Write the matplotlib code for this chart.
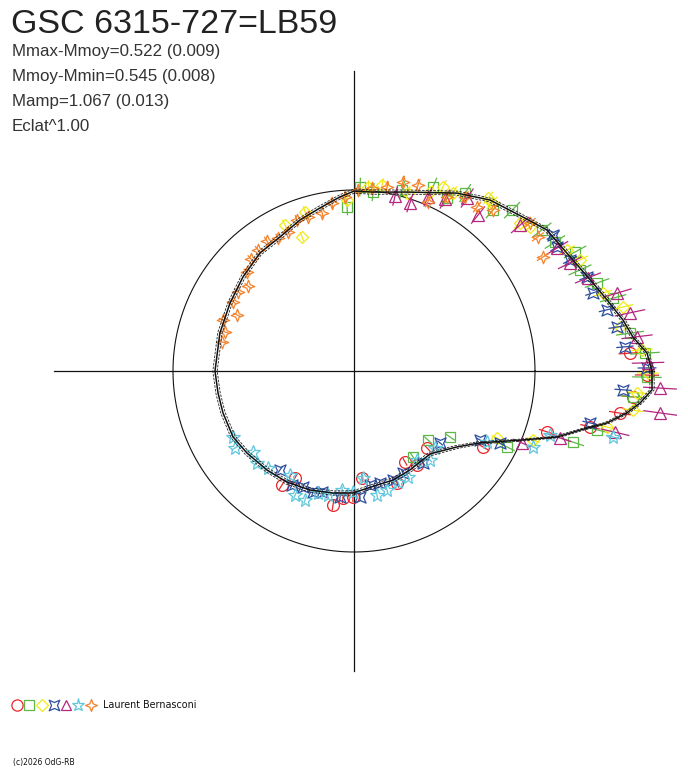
import numpy as np
import matplotlib
matplotlib.use("Agg")
import matplotlib.pyplot as plt
from matplotlib.path import Path
from matplotlib.collections import LineCollection

# ---------------- data ----------------
title = "GSC 6315-727=LB59"
info_lines = ["Mmax-Mmoy=0.522 (0.009)", "Mmoy-Mmin=0.545 (0.008)",
              "Mamp=1.067 (0.013)", "Eclat^1.00"]
observer = "Laurent Bernasconi"
copyright_txt = "(c)2026 OdG-RB"

# fitted curve: polar angle (deg) and relative flux (circle = mean = 1)
curve_ang = [0, 3.5, 6.9, 10.7, 15.7, 20.2, 26.9, 36.2, 42.3, 51.5, 59.9, 73.5,
             83.9, 90, 94.6, 101.8, 109.7, 118.9, 128.5, 139.7, 151.3, 164.2, 180,
             189.2, 197.8, 208.6, 217.5, 228.7, 238.9, 249.7, 260.2, 269.5, 281.4,
             289.7, 299.5, 312.5, 315.7, 323.6, 330.3, 337.8, 342.0, 345.6, 348.4,
             351.3, 353.6, 356.4, 360]
curve_flux = [1.646, 1.622, 1.553, 1.513, 1.452, 1.407, 1.356, 1.320, 1.263, 1.207,
              1.136, 1.031, 0.994, 0.994, 0.965, 0.920, 0.886, 0.846, 0.834, 0.804,
              0.781, 0.770, 0.768, 0.761, 0.760, 0.761, 0.745, 0.728, 0.717, 0.701,
              0.684, 0.674, 0.643, 0.640, 0.628, 0.622, 0.641, 0.707, 0.801, 1.008,
              1.180, 1.300, 1.427, 1.526, 1.590, 1.650, 1.646]
curve_sigma = 0.012

# observations (angle deg, relative flux), per series
red_ang = [237.7, 241.1, 261.1, 265.0, 269.5, 274.3, 291.0, 299.3, 303.8, 313.5,
           329.5, 342.5, 346.7, 351.0, 354.7, 359.2, 3.7]
red_flux = [0.745, 0.675, 0.749, 0.704, 0.696, 0.593, 0.663, 0.576, 0.625, 0.586,
            0.827, 1.118, 1.340, 1.488, 1.548, 1.619, 1.528]
green_ang = [92.4, 88.1, 83.9, 75.1, 66.8, 61.7, 58.0, 49.2, 45.5, 36.9, 32.7, 28.3,
             24.1, 19.9, 15.7, 7.8, 3.5, -1.2, -5.3, -13.6, -18.0, -26.4, -34.5,
             -43.0, -55.5]
green_flux = [0.907, 1.017, 0.994, 1.035, 1.106, 1.085, 1.159, 1.175, 1.246, 1.298,
              1.319, 1.387, 1.368, 1.428, 1.487, 1.539, 1.611, 1.619, 1.548, 1.381,
              1.272, 0.944, 0.644, 0.559, 0.576]
yellow_ang = [92.3, 85.6, 81.4, 73.1, 67.0, 64.2, 60.9, 52.2, 50.6, 41.7, 39.3, 29.6,
              26.2, 17.4, 13.4, 9.4, 4.2, -0.4, -4.4, -8.0, -12.5, -21.1, -25.1,
              107.1, 115.3, 111.2]
yellow_flux = [0.945, 1.019, 1.039, 1.028, 1.074, 1.129, 1.125, 1.209, 1.201, 1.229,
               1.256, 1.353, 1.391, 1.441, 1.528, 1.490, 1.595, 1.624, 1.568, 1.556,
               1.432, 1.060, 0.872, 0.919, 0.892, 0.794]
blue_ang = [34.3, 31.4, 27.2, 22.0, 18.1, 13.6, 9.5, 5.1, 0.6, -4.0, -12.4, -26.3,
            -28.7, -39.9, -53.1, -64.3, -70.3, -76.9, -82.0, -87.3, -96.3, -104.8,
            -108.7, -113.7, -118.5, -126.8]
blue_flux = [1.332, 1.314, 1.342, 1.388, 1.389, 1.438, 1.473, 1.503, 1.619, 1.490,
             1.335, 0.899, 0.794, 0.620, 0.635, 0.625, 0.640, 0.635, 0.636, 0.697,
             0.701, 0.692, 0.706, 0.700, 0.717, 0.683]
magenta_ang = [76.8, 71.6, 67.0, 62.1, 56.8, 51.5, 41.3, 31.2, 26.6, 21.7, 16.5,
               11.9, 6.9, 1.6, -3.2, -7.8, -13.2, -18.0, -23.2]
magenta_flux = [0.993, 0.978, 1.045, 1.075, 1.142, 1.101, 1.222, 1.311, 1.334, 1.391,
                1.516, 1.558, 1.575, 1.625, 1.693, 1.707, 1.481, 1.197, 1.010]
cyan_ang = [208.6, 212.9, 218.7, 223.5, 228.4, 238.4, 244.6, 249.2, 253.6, 258.2,
            264.2, 269.5, 274.8, 280.5, 285.5, 291.6, 297.0, 305.3, 310.5, 316.4,
            331.9, 337.0, 341.9, 345.7]
cyan_flux = [0.761, 0.783, 0.715, 0.739, 0.716, 0.675, 0.759, 0.762, 0.703, 0.700,
             0.661, 0.669, 0.593, 0.697, 0.682, 0.660, 0.657, 0.602, 0.647, 0.618,
             0.833, 1.074, 1.139, 1.477]
orange_ang = [167.6, 163.2, 158.7, 154.4, 150.3, 145.7, 141.3, 137.2, 132.6, 128.4,
              123.8, 119.7, 115.4, 110.7, 106.6, 101.4, 97.5, 93.0, 88.7, 84.4, 79.8,
              75.5, 71.0, 66.4, 61.9, 57.5, 53.1, 49.2, 40.1, 36.1, 31.1]
orange_flux = [0.747, 0.745, 0.777, 0.717, 0.770, 0.775, 0.751, 0.805, 0.841, 0.853,
               0.864, 0.846, 0.850, 0.892, 0.888, 0.891, 0.936, 0.963, 1.000, 1.016,
               1.033, 1.079, 1.087, 1.019, 1.090, 1.140, 1.133, 1.175, 1.271, 1.258,
               1.219]
# typical magnitude errors per series
mag_err = {"red": 0.045, "green": 0.055, "yellow": 0.04, "blue": 0.035,
           "magenta": 0.06, "cyan": 0.03, "orange": 0.035}

# ---------------- markers ----------------
star4_plus = Path([(0, 1), (0.28, 0.28), (1, 0), (0.28, -0.28), (0, -1),
                   (-0.28, -0.28), (-1, 0), (-0.28, 0.28), (0, 1)],
                  [Path.MOVETO] + [Path.LINETO] * 7 + [Path.CLOSEPOLY])
star4_x = Path([(0.8, 0.8), (0, 0.45), (-0.8, 0.8), (-0.45, 0), (-0.8, -0.8),
                (0, -0.45), (0.8, -0.8), (0.45, 0), (0.8, 0.8)],
               [Path.MOVETO] + [Path.LINETO] * 7 + [Path.CLOSEPOLY])

series = [
    ("red", red_ang, red_flux, "#e8262b", "o", 8.5),
    ("green", green_ang, green_flux, "#5cb845", "s", 7.0),
    ("yellow", yellow_ang, yellow_flux, "#f0ea14", "D", 6.5),
    ("blue", blue_ang, blue_flux, "#2d4d9f", star4_x, 8.0),
    ("magenta", magenta_ang, magenta_flux, "#b5267f", "^", 8.0),
    ("cyan", cyan_ang, cyan_flux, "#5fc7dc", "*", 10.0),
    ("orange", orange_ang, orange_flux, "#f5822a", star4_plus, 9.0),
]

# ---------------- figure ----------------
W, H = 688, 768
cx, cy, R = 354, 371, 181.0
fig = plt.figure(figsize=(W / 100, H / 100), dpi=100)
ax = fig.add_axes([0, 0, 1, 1])
ax.set_xlim(-cx / R, (W - cx) / R)
ax.set_ylim(-(H - cy) / R, cy / R)
ax.axis("off")

# axes cross and mean circle
L = 1.655
ax.plot([-L, L], [0, 0], color="#111111", lw=0.9, zorder=1)
ax.plot([0, 0], [-L, L], color="#111111", lw=0.9, zorder=1)
t = np.linspace(0, 2 * np.pi, 400)
ax.plot(np.cos(t), np.sin(t), color="#111111", lw=0.8, zorder=1)

# observations with radial error bars
for name, ang, flx, col, mk, ms in series:
    a = np.radians(np.array(ang))
    f = np.array(flx)
    e = f * 0.921 * mag_err[name]
    segs = [[((fi - ei) * np.cos(ai), (fi - ei) * np.sin(ai)),
             ((fi + ei) * np.cos(ai), (fi + ei) * np.sin(ai))]
            for ai, fi, ei in zip(a, f, e)]
    ax.add_collection(LineCollection(segs, colors=col, linewidths=0.9, zorder=2))
    ax.plot(f * np.cos(a), f * np.sin(a), linestyle="none", marker=mk, ms=ms,
            mfc="none", mec=col, mew=0.9, zorder=2)

# fitted curve (with band)
ca = np.radians(np.array(curve_ang))
cf = np.array(curve_flux)
ax.plot(cf * np.cos(ca), cf * np.sin(ca), color="#111111", lw=1.1, zorder=3)
for s in (-curve_sigma, curve_sigma):
    ax.plot((cf + s) * np.cos(ca), (cf + s) * np.sin(ca), color="#222222",
            lw=0.6, ls=(0, (3, 1.5)), zorder=3)

# ---------------- texts ----------------
def fx(px):
    return px / W

def fy(py):
    return 1 - py / H

fig.text(fx(11), fy(33), title, fontsize=24.5, family="Liberation Sans",
         color="#222222", va="baseline", ha="left")
for i, line in enumerate(info_lines):
    fig.text(fx(12), fy(56 + 25 * i), line, fontsize=12.2, family="Liberation Sans",
             color="#333333", va="baseline", ha="left")

# legend row
lx = [16.7, 29, 41.7, 54, 66, 78, 91]
for (name, ang, flx, col, mk, ms), x in zip(series, lx):
    ax.plot([(x - cx) / R], [(cy - 704.5) / R], linestyle="none", marker=mk,
            ms=ms * 0.95, mfc="none", mec=col, mew=0.9, clip_on=False)
fig.text(fx(103), fy(705), observer, fontsize=6.9, family="DejaVu Sans",
         color="#111111", va="center", ha="left")
fig.text(fx(13), fy(763), copyright_txt, fontsize=5.5, family="DejaVu Sans",
         color="#111111", va="center", ha="left")

fig.savefig("out.png", dpi=100)
